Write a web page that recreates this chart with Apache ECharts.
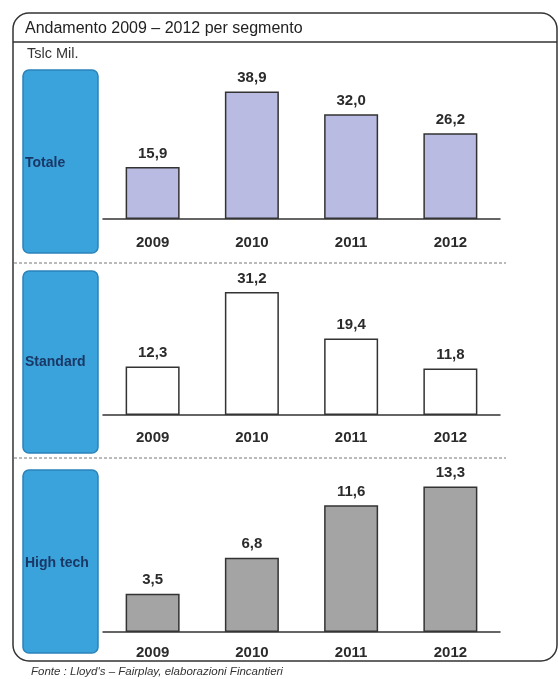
<!DOCTYPE html>
<html>
<head>
<meta charset="utf-8">
<script src="https://cdn.jsdelivr.net/npm/echarts@6/dist/echarts.min.js"></script>
<style>
  html, body { margin: 0; padding: 0; background: #fff; }
  #chart { width: 558px; height: 679px; }
</style>
</head>
<body>
<div id="chart"></div>
<script>
    // dati
    var years = ['2009', '2010', '2011', '2012'];
    var segments = ['Totale', 'Standard', 'High tech'];
    var totale = [15.9, 38.9, 32.0, 26.2];
    var standard = [12.3, 31.2, 19.4, 11.8];
    var highTech = [3.5, 6.8, 11.6, 13.3];

    var FONT = '"Liberation Sans", Arial, sans-serif';
    var INK = '#2b2b2b';

    var myChart = echarts.init(document.getElementById('chart'), null, {renderer: 'canvas'});

    // layout of the three panels
    var panels = [
        {data: totale, color: '#b9bbe3', top: 88, height: 131, max: 40, margin: 16, box: [70, 183], textY: 163},
        {data: standard, color: '#ffffff', top: 277, height: 138, max: 35, margin: 15, box: [271, 182], textY: 362},
        {data: highTech, color: '#a4a4a4', top: 468, height: 164, max: 15, margin: 13, box: [470, 183], textY: 563}
    ];

    function fmt(v) {
        return v.toFixed(1).replace('.', ',');
    }

    var grid = [], xAxis = [], yAxis = [], series = [];
    var graphic = [
        // frame
        {type: 'rect', shape: {x: 13, y: 13, width: 544, height: 648, r: 16}, style: {fill: 'none', stroke: '#333', lineWidth: 1.5}, z: 1},
        {type: 'line', shape: {x1: 13, y1: 42, x2: 557, y2: 42}, style: {stroke: '#333', lineWidth: 1.5}},
        {type: 'text', style: {text: 'Andamento 2009 – 2012 per segmento', x: 25, y: 29, font: '16px ' + FONT, fill: '#222', verticalAlign: 'middle'}},
        {type: 'text', style: {text: 'Tslc Mil.', x: 27, y: 54, font: '14.5px ' + FONT, fill: '#333', verticalAlign: 'middle'}},
        // separators
        {type: 'line', shape: {x1: 14, y1: 263, x2: 506, y2: 263}, style: {stroke: '#777', lineWidth: 1, lineDash: [3, 2]}},
        {type: 'line', shape: {x1: 14, y1: 458, x2: 506, y2: 458}, style: {stroke: '#777', lineWidth: 1, lineDash: [3, 2]}},
        // source
        {type: 'text', style: {text: "Fonte : Lloyd's – Fairplay, elaborazioni Fincantieri", x: 31, y: 672, font: 'italic 11.5px ' + FONT, fill: '#333', verticalAlign: 'middle'}}
    ];

    panels.forEach(function (p, i) {
        grid.push({left: 103, width: 397, top: p.top, height: p.height});
        xAxis.push({
            type: 'category',
            gridIndex: i,
            data: years,
            axisTick: {show: false},
            axisLine: {lineStyle: {color: '#333', width: 1.5}},
            axisLabel: {margin: p.margin, fontFamily: FONT, fontWeight: 'bold', fontSize: 15, color: INK}
        });
        yAxis.push({type: 'value', gridIndex: i, min: 0, max: p.max, show: false, splitLine: {show: false}});
        series.push({
            type: 'bar',
            name: segments[i],
            xAxisIndex: i,
            yAxisIndex: i,
            data: p.data,
            barWidth: 54,
            itemStyle: {color: p.color, borderColor: '#333', borderWidth: 1.5},
            label: {
                show: true,
                position: 'top',
                distance: 6,
                formatter: function (d) { return fmt(d.value); },
                fontFamily: FONT,
                fontWeight: 'bold',
                fontSize: 15,
                color: INK
            }
        });
        // blue segment box
        graphic.push({type: 'rect', shape: {x: 23, y: p.box[0], width: 75, height: p.box[1], r: 6},
            style: {fill: '#3ba3dc', stroke: '#2b83ba', lineWidth: 1.5}});
        graphic.push({type: 'text', style: {text: segments[i], x: 25, y: p.textY, font: 'bold 14px ' + FONT, fill: '#1a3866', verticalAlign: 'middle'}});
    });

    var option = {
        backgroundColor: '#fff',
        animation: false,
        grid: grid,
        xAxis: xAxis,
        yAxis: yAxis,
        series: series,
        graphic: graphic
    };

    option && myChart.setOption(option);
</script>
</body>
</html>
